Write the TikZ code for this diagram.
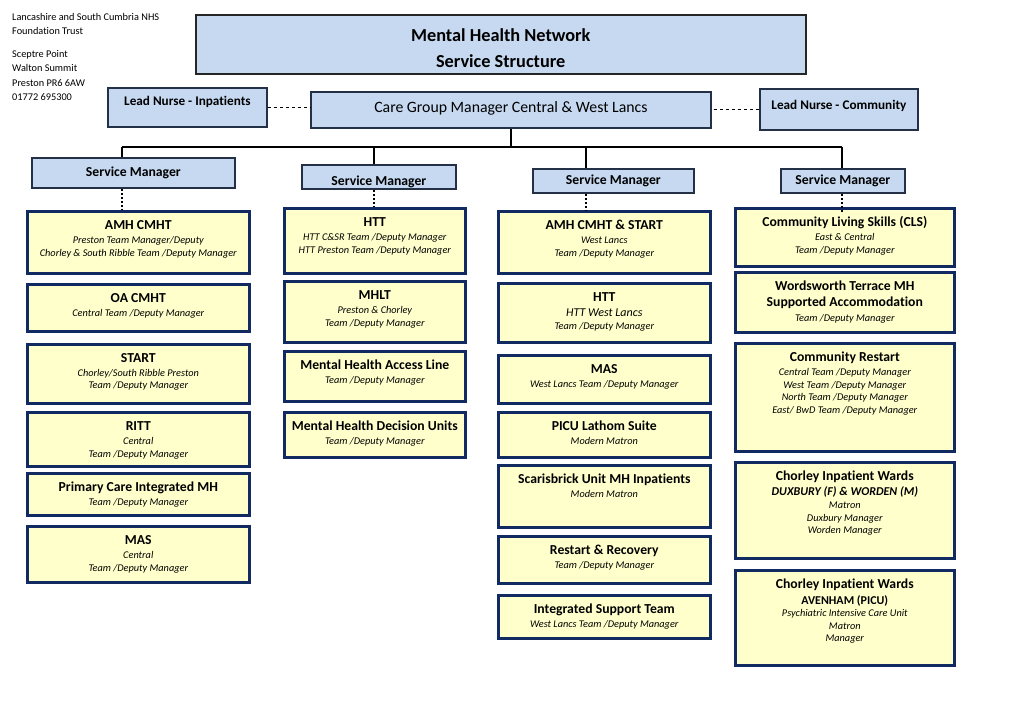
\documentclass[tikz,border=0pt]{standalone}
\usepackage{fontspec}
\setmainfont{Carlito}[Ligatures=NoCommon]
\usepackage{xcolor}
\usepackage{tikz}
\usetikzlibrary{positioning}
\definecolor{navy}{RGB}{18, 42, 98}
\definecolor{slate}{RGB}{36, 48, 70}
\definecolor{paleblue}{RGB}{198, 217, 241}
\definecolor{paleyellow}{RGB}{255, 255, 204}
\newcommand{\hd}[1]{{\fontsize{13.7}{15}\selectfont\bfseries\upshape\rule{0pt}{11pt}#1}}

\begin{document}
\begin{tikzpicture}[x=1pt, y=-1pt,
    bluebox/.style={draw=slate, line width=1.8pt, fill=paleblue, anchor=north west, inner sep=0pt},
    yellowbox/.style={draw=navy, line width=2.6pt, fill=paleyellow, anchor=north west, inner sep=0pt},
    boxtext/.style={anchor=north, align=center, inner sep=0pt, yshift=-8.5pt, font=\fontsize{10.3}{12.5}\selectfont\itshape},
    smtext/.style={font=\fontsize{13.7}{15}\selectfont\bfseries},
    link/.style={line width=2pt},
    dots/.style={line width=2pt, dash pattern=on 2pt off 2pt}]
    \useasboundingbox (0,0) rectangle (1020,721);
    %% address, top left
    \node[anchor=north west, align=left, inner sep=0pt, font=\fontsize{10.3}{14}\selectfont] (trust) at (12,12.3)
        {\rule{0pt}{8pt}Lancashire and South Cumbria NHS\\Foundation Trust};
    \node[anchor=north west, align=left, inner sep=0pt, font=\fontsize{10.3}{14.3}\selectfont] (addr) at (12,49.3)
        {\rule{0pt}{8pt}Sceptre Point\\Walton Summit\\Preston PR6 6AW\\01772 695300};
    %% title
    \node[bluebox, draw=black!85, line width=1.5pt, minimum width=610pt, minimum height=59pt] (title) at (195,14) {};
    \node[align=center, font=\fontsize{18.3}{26}\selectfont\bfseries, yshift=-4pt] (title-t) at (title.center)
        {Mental Health Network\\Service Structure};
    %% second row
    \node[bluebox, minimum width=159pt, minimum height=39pt, font=\fontsize{13.2}{15}\selectfont\bfseries] (leadin) at (107,87)
        {\raisebox{1.5pt}[0pt][0pt]{Lead Nurse - Inpatients}};
    \node[bluebox, minimum width=400pt, minimum height=36pt, font=\fontsize{15.8}{18}\selectfont] (cgm) at (310,91)
        {\raisebox{-3pt}[0pt][0pt]{Care Group Manager Central \& West Lancs}};
    \node[bluebox, minimum width=158pt, minimum height=41pt, font=\fontsize{13.2}{15}\selectfont\bfseries] (leadcom) at (759,88)
        {\raisebox{0.3pt}[0pt][0pt]{Lead Nurse - Community}};
    \draw[link, dashed, line width=1.2pt] (leadin.east) -- (leadin.east -| cgm.west);
    \draw[link, dashed, line width=1.2pt] (leadcom.west) -- (leadcom.west -| cgm.east);
    %% service managers
    \node[bluebox, smtext, minimum width=203pt, minimum height=30pt] (sm1) at (31,157) {Service Manager};
    \node[bluebox, smtext, minimum width=154pt, minimum height=24pt] (sm2) at (301,164) {\raisebox{-8.4pt}[0pt][0pt]{Service Manager}};
    \node[bluebox, smtext, minimum width=161pt, minimum height=24pt] (sm3) at (532,168) {Service Manager};
    \node[bluebox, smtext, minimum width=124pt, minimum height=24pt] (sm4) at (780,168) {Service Manager};
    %% tree
    \coordinate (t1) at (122,147);
    \coordinate (t2) at (374,147);
    \coordinate (t3) at (586,147);
    \coordinate (t4) at (842,147);
    \draw[link] (cgm.south) -- (cgm.south |- t1);
    \draw[link] (t1) -- (t4);
    \draw[link] (t1) -- (t1 |- sm1.north);
    \draw[link] (t2) -- (t2 |- sm2.north);
    \draw[link] (t3) -- (t3 |- sm3.north);
    \draw[link] (t4) -- (t4 |- sm4.north);
    %% column 1
    \node[yellowbox, minimum width=222pt, minimum height=62pt] (amh) at (26,210) {};
    \node[boxtext] (amh-t) at (amh.north) {\hd{AMH CMHT}\\[1.5pt]Preston Team Manager/Deputy\\Chorley \& South Ribble Team /Deputy Manager};
    \node[yellowbox, minimum width=222pt, minimum height=47pt] (oa) at (26,283) {};
    \node[boxtext] (oa-t) at (oa.north) {\hd{OA CMHT}\\[1.5pt]Central Team /Deputy Manager};
    \node[yellowbox, minimum width=222pt, minimum height=59pt] (start) at (26,343) {};
    \node[boxtext] (start-t) at (start.north) {\hd{START}\\[1pt]Chorley/South Ribble Preston\\Team /Deputy Manager};
    \node[yellowbox, minimum width=222pt, minimum height=54pt] (ritt) at (26,411) {};
    \node[boxtext] (ritt-t) at (ritt.north) {\hd{RITT}\\[1.5pt]Central\\Team /Deputy Manager};
    \node[yellowbox, minimum width=222pt, minimum height=42pt] (pcimh) at (26,472) {};
    \node[boxtext] (pcimh-t) at (pcimh.north) {\hd{Primary Care Integrated MH}\\[1.5pt]Team /Deputy Manager};
    \node[yellowbox, minimum width=222pt, minimum height=56pt] (masc) at (26,525) {};
    \node[boxtext] (masc-t) at (masc.north) {\hd{MAS}\\[1.5pt]Central\\Team /Deputy Manager};
    %% column 2
    \node[yellowbox, minimum width=181pt, minimum height=65pt] (htt) at (283,207) {};
    \node[boxtext] (htt-t) at (htt.north) {\hd{HTT}\\[1.5pt]HTT C\&SR Team /Deputy Manager\\HTT Preston Team /Deputy Manager};
    \node[yellowbox, minimum width=181pt, minimum height=61pt] (mhlt) at (283,280) {};
    \node[boxtext] (mhlt-t) at (mhlt.north) {\hd{MHLT}\\[1.5pt]Preston \& Chorley\\Team /Deputy Manager};
    \node[yellowbox, minimum width=181pt, minimum height=50pt] (mhal) at (283,350) {};
    \node[boxtext] (mhal-t) at (mhal.north) {\hd{Mental Health Access Line}\\[1.5pt]Team /Deputy Manager};
    \node[yellowbox, minimum width=181pt, minimum height=45pt] (mhdu) at (283,411) {};
    \node[boxtext] (mhdu-t) at (mhdu.north) {\hd{Mental Health Decision Units}\\[1.5pt]Team /Deputy Manager};
    %% column 3
    \node[yellowbox, minimum width=212pt, minimum height=62pt] (amhwl) at (497,210) {};
    \node[boxtext] (amhwl-t) at (amhwl.north) {\hd{AMH CMHT \& START}\\[1.5pt]West Lancs\\Team /Deputy Manager};
    \node[yellowbox, minimum width=212pt, minimum height=59pt] (httwl) at (497,282) {};
    \node[boxtext] (httwl-t) at (httwl.north) {\hd{HTT}\\[2pt]{\fontsize{12}{13}\selectfont HTT West Lancs}\\[1pt]Team /Deputy Manager};
    \node[yellowbox, minimum width=212pt, minimum height=48pt] (maswl) at (497,354) {};
    \node[boxtext] (maswl-t) at (maswl.north) {\hd{MAS}\\[1.5pt]West Lancs Team /Deputy Manager};
    \node[yellowbox, minimum width=212pt, minimum height=45pt] (picu) at (497,411) {};
    \node[boxtext] (picu-t) at (picu.north) {\hd{PICU Lathom Suite}\\[1.5pt]Modern Matron};
    \node[yellowbox, minimum width=212pt, minimum height=62pt] (scar) at (497,464) {};
    \node[boxtext] (scar-t) at (scar.north) {\hd{Scarisbrick Unit MH Inpatients}\\[1.5pt]Modern Matron};
    \node[yellowbox, minimum width=212pt, minimum height=47pt] (restart) at (497,535) {};
    \node[boxtext] (restart-t) at (restart.north) {\hd{Restart \& Recovery}\\[1.5pt]Team /Deputy Manager};
    \node[yellowbox, minimum width=212pt, minimum height=43pt] (ist) at (497,594) {};
    \node[boxtext] (ist-t) at (ist.north) {\hd{Integrated Support Team}\\[1.5pt]West Lancs Team /Deputy Manager};
    %% column 4
    \node[yellowbox, minimum width=219pt, minimum height=58pt] (cls) at (734,207) {};
    \node[boxtext] (cls-t) at (cls.north) {\hd{Community Living Skills (CLS)}\\[1.5pt]East \& Central\\Team /Deputy Manager};
    \node[yellowbox, minimum width=219pt, minimum height=60pt] (words) at (734,271) {};
    \node[boxtext] (words-t) at (words.north) {\hd{Wordsworth Terrace MH}\\[3.5pt]\hd{Supported Accommodation}\\[2.4pt]Team /Deputy Manager};
    \node[yellowbox, minimum width=219pt, minimum height=108pt] (comres) at (734,342) {};
    \node[boxtext] (comres-t) at (comres.north) {\hd{Community Restart}\\[1.5pt]Central Team /Deputy Manager\\West Team /Deputy Manager\\North Team /Deputy Manager\\East/ BwD Team /Deputy Manager};
    \node[yellowbox, minimum width=219pt, minimum height=96pt] (dux) at (734,461) {};
    \node[boxtext] (dux-t) at (dux.north) {\hd{Chorley Inpatient Wards}\\[2pt]{\fontsize{12}{13}\selectfont\bfseries DUXBURY (F) \& WORDEN (M)}\\[1pt]Matron\\Duxbury Manager\\Worden Manager};
    \node[yellowbox, minimum width=219pt, minimum height=95pt] (aven) at (734,569) {};
    \node[boxtext] (aven-t) at (aven.north) {\hd{Chorley Inpatient Wards}\\[3pt]{\fontsize{12}{13}\selectfont\bfseries\upshape AVENHAM (PICU)}\\Psychiatric Intensive Care Unit\\Matron\\Manager};
    %% dotted links to first team boxes
    \draw[dots] (t1 |- sm1.south) -- (t1 |- amh.north);
    \draw[dots] (t2 |- sm2.south) -- (t2 |- htt.north);
    \draw[dots] (t3 |- sm3.south) -- (t3 |- amhwl.north);
    \draw[dots] (t4 |- sm4.south) -- ([yshift=-5pt]t4 |- cls.north);
\end{tikzpicture}
\end{document}
